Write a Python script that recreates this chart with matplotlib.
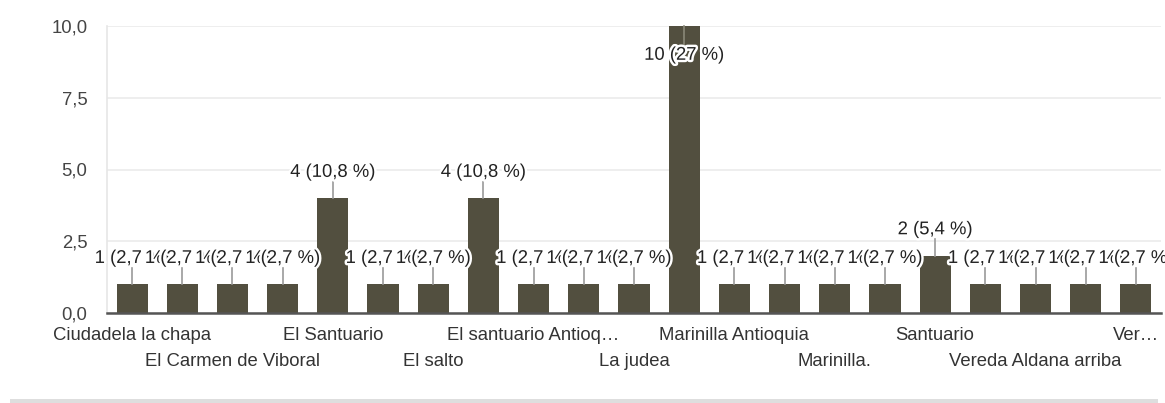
import matplotlib
matplotlib.use("Agg")
import matplotlib.pyplot as plt
import matplotlib.patheffects as pe
from matplotlib.patches import Rectangle

categories = [
    "Ciudadela la chapa", "El Carmen", "El Carmen de Viboral", "El Retiro",
    "El Santuario", "El Santuario Antioquia", "El salto", "El santuario",
    "El santuario Antioq…", "Guarne", "La judea", "Marinilla",
    "Marinilla Antioquia", "Marinilla, Antioquia", "Marinilla.", "Rionegro",
    "Santuario", "Santuario Antioquia", "Vereda Aldana arriba", "Vereda El Rosario",
    "Ver…",
]
values = [1, 1, 1, 1, 4, 1, 1, 4, 1, 1, 1, 10, 1, 1, 1, 1, 2, 1, 1, 1, 1]
total = sum(values)
ytick_vals = [0, 2.5, 5, 7.5, 10]
ytick_labels = ["0,0", "2,5", "5,0", "7,5", "10,0"]

plt.rcParams['font.family'] = ['Liberation Sans', 'DejaVu Sans']
FS = 13.3

fig = plt.figure(figsize=(11.65, 4.03), dpi=100)
ax = fig.add_axes([107 / 1165, 90 / 403, 1054 / 1165, 287 / 403])

x = list(range(len(values)))
ax.bar(x, values, width=0.62, color="#524f3f", zorder=3)

ax.set_xlim(-0.5, len(values) - 0.5)
ax.set_ylim(0, 10)
ax.set_yticks(ytick_vals)
ax.set_yticklabels(ytick_labels, fontsize=FS, color="#444444")
ax.yaxis.grid(True, color="#ebebeb", lw=1.2, zorder=0)
ax.set_axisbelow(True)
ax.tick_params(axis="y", length=0, pad=14)

tick_labels = []
for i, name in enumerate(categories):
    if i % 4 == 0:
        tick_labels.append(name)
    elif i % 4 == 2:
        tick_labels.append("\n" + name)
    else:
        tick_labels.append("")
ax.set_xticks(x)
ax.set_xticklabels(tick_labels, fontsize=FS, color="#333333", linespacing=1.72)
ax.tick_params(axis="x", length=0, pad=10)

for s in ["top", "right"]:
    ax.spines[s].set_visible(False)
ax.spines["left"].set_color("#e6e6e6")
ax.spines["left"].set_linewidth(1.2)
ax.spines["bottom"].set_color("#555555")
ax.spines["bottom"].set_linewidth(1.8)
ax.spines["bottom"].set_zorder(4)

halo = [pe.withStroke(linewidth=3.5, foreground="white")]
for xi, v in zip(x, values):
    pct = f"{100 * v / total:.1f}".replace(".", ",")
    if pct.endswith(",0"):
        pct = pct[:-2]
    label = f"{v} ({pct} %)"
    if v >= 9.5:
        ax.plot([xi, xi], [v, v - 0.65], color="#8a8878", lw=1.2, zorder=4,
                clip_on=False)
        ax.text(xi, v - 1.02, label, ha="center", va="center", fontsize=FS,
                color="#222222", path_effects=halo, zorder=5)
    else:
        ax.plot([xi, xi], [v, v + 0.57], color="#9a9a9a", lw=1.2, zorder=4)
        ax.text(xi, v + 0.9, label, ha="center", va="center", fontsize=FS,
                color="#222222", path_effects=halo, zorder=5)

fig.add_artist(Rectangle((10 / 1165, 0), 1148 / 1165, 4 / 403,
                         transform=fig.transFigure, color="#dedede", lw=0))

fig.savefig("out.png", dpi=100)
